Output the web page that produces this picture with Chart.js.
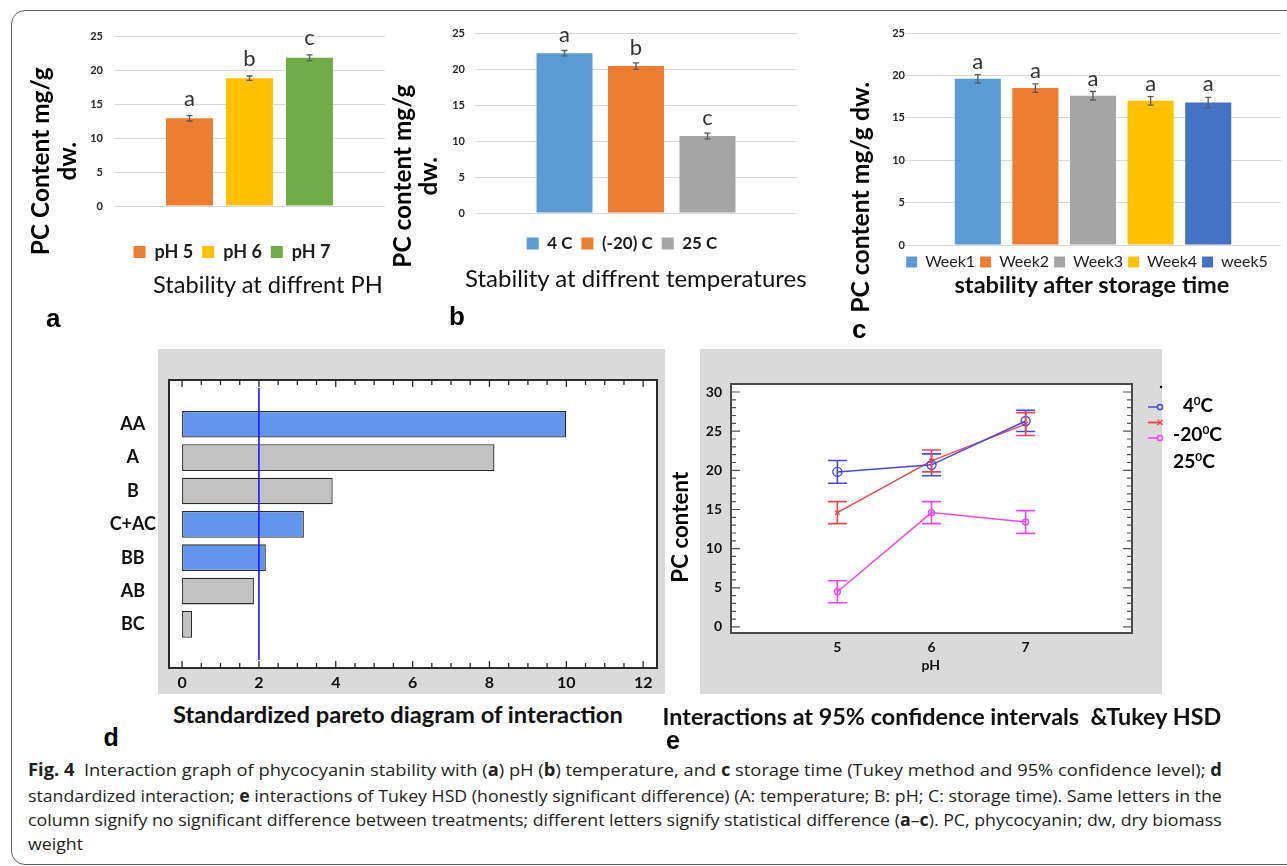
<!DOCTYPE html>
<html><head><meta charset="utf-8">
<script src="https://cdn.jsdelivr.net/npm/chart.js@4.4.1/dist/chart.umd.min.js"></script>
<style>
html,body{margin:0;padding:0;background:#fff;}
body{width:1287px;height:866px;position:relative;overflow:hidden;font-family:Lato,sans-serif;color:#000;}
.t{position:absolute;white-space:pre;line-height:1;}
.frame{position:absolute;left:11px;top:10px;width:1310px;height:853px;border:1.5px solid #5e5e5e;border-radius:14px;}
.cap{position:absolute;left:28px;white-space:pre;font-family:"Open Sans",sans-serif;font-size:17px;line-height:1;color:#231f20;transform-origin:0 50%;}
.cap b{font-weight:700;}
</style></head><body>
<div class="frame"></div>
<script>
// ---------------- DATA ----------------
const barTicks = [0, 5, 10, 15, 20, 25];

const phLabels  = ['pH 5', 'pH 6', 'pH 7'];
const phValues  = [12.9, 18.8, 21.8];
const phErrors  = [0.4, 0.32, 0.42];
const phLetters = ['a', 'b', 'c'];

const tempLabels  = ['4 C', '(-20) C', '25 C'];
const tempValues  = [22.2, 20.4, 10.7];
const tempErrors  = [0.37, 0.44, 0.4];
const tempLetters = ['a', 'b', 'c'];

const weekLabels  = ['Week1', 'Week2', 'Week3', 'Week4', 'week5'];
const weekValues  = [19.6, 18.5, 17.6, 17.0, 16.8];
const weekErrors  = [0.5, 0.5, 0.5, 0.5, 0.6];
const weekLetters = ['a', 'a', 'a', 'a', 'a'];

const paretoTerms       = ['AA', 'A', 'B', 'C+AC', 'BB', 'AB', 'BC'];
const paretoValues      = [10.0, 8.13, 3.92, 3.17, 2.18, 1.87, 0.26];
const paretoSignificant = [true, false, false, true, true, false, false];
const paretoThreshold   = 2.0;
const paretoTicks       = [0, 2, 4, 6, 8, 10, 12];

const phLevels     = [5, 6, 7];
const pc4C         = [19.8, 20.7, 26.3];
const pcMinus20C   = [14.6, 21.2, 25.9];
const pc25C        = [4.5, 14.6, 13.4];
const ci4C         = [1.45, 1.4, 1.35];
const ciMinus20C   = [1.4, 1.4, 1.45];
const ci25C        = [1.4, 1.4, 1.45];
const interYTicks  = [0, 5, 10, 15, 20, 25, 30];
const interLegend  = ['4<span style="font-size:62%;vertical-align:0.6em">0</span>C',
                      '-20<span style="font-size:62%;vertical-align:0.6em">0</span>C',
                      '25<span style="font-size:62%;vertical-align:0.6em">0</span>C'];

// ---------------- HELPERS ----------------
Chart.defaults.font.family = 'Lato';
Chart.defaults.color = '#262626';

function mkCanvas(left, top, w, h) {
  const c = document.createElement('canvas');
  c.width = w; c.height = h;
  c.style.cssText = `position:absolute;left:${left}px;top:${top}px;width:${w}px;height:${h}px;`;
  document.body.appendChild(c);
  return c;
}

function txt(html, o) {
  const d = document.createElement('div');
  d.className = 't';
  d.innerHTML = html;
  d.style.fontFamily = o.family || 'Lato';
  d.style.fontWeight = o.weight || 'normal';
  d.style.fontSize = o.size + 'px';
  d.style.color = o.color || '#000';
  document.body.appendChild(d);
  let size = o.size;
  if (o.w) {
    const w0 = d.getBoundingClientRect().width;
    size = o.size * o.w / w0;
    d.style.fontSize = size + 'px';
  }
  const w = d.offsetWidth, h = d.offsetHeight;
  d.style.left = (o.anchor === 'left' ? o.x : o.x - w / 2) + 'px';
  d.style.top = (o.y - h / 2) + 'px';
  if (o.rot) d.style.transform = 'rotate(-90deg)';
  return size;
}

// error bars + letters for the Excel style bar panels
const errLetters = {
  id: 'errLetters',
  afterDatasetsDraw(chart, args, o) {
    const ctx = chart.ctx, ys = chart.scales.y;
    chart.data.datasets.forEach((ds, i) => {
      const el = chart.getDatasetMeta(i).data[0];
      const v = ds.data[0], e = ds.err;
      const t = ys.getPixelForValue(v + e), b = ys.getPixelForValue(v - e);
      ctx.save();
      ctx.strokeStyle = '#595959'; ctx.lineWidth = 1.3;
      ctx.beginPath();
      ctx.moveTo(el.x, t); ctx.lineTo(el.x, b);
      ctx.moveTo(el.x - 3, t); ctx.lineTo(el.x + 3, t);
      ctx.moveTo(el.x - 3, b); ctx.lineTo(el.x + 3, b);
      ctx.stroke();
      ctx.fillStyle = '#333';
      ctx.font = `normal ${o.size}px Lato`;
      ctx.textAlign = 'center'; ctx.textBaseline = 'alphabetic';
      ctx.fillText(ds.letter, el.x, t - o.gap);
      ctx.restore();
    });
  }
};

function barPanel(canvas, labels, values, errors, letters, colors, cfg) {
  return new Chart(canvas, {
    type: 'bar',
    data: {
      labels: [''],
      datasets: labels.map((l, i) => ({
        label: l, data: [values[i]], err: errors[i], letter: letters[i],
        backgroundColor: colors[i], borderWidth: 0,
        categoryPercentage: cfg.cat, barPercentage: cfg.bar
      }))
    },
    options: {
      responsive: false, animation: false, devicePixelRatio: 1,
      layout: { padding: cfg.pad },
      plugins: {
        legend: { position: 'bottom',
          labels: { boxWidth: cfg.box, boxHeight: cfg.box, padding: cfg.lpad, color: '#1e1e1e',
                    font: { family: 'Lato', size: cfg.lsize, weight: cfg.lweight } } },
        tooltip: { enabled: false },
        errLetters: { size: cfg.letterSize, gap: cfg.gap }
      },
      scales: {
        x: { grid: { display: false, drawTicks: false }, border: { display: false },
             ticks: { display: false }, afterFit: s => { s.height = cfg.xh; } },
        y: { min: barTicks[0], max: barTicks[barTicks.length - 1],
             afterBuildTicks: s => { s.ticks = barTicks.map(v => ({ value: v })); },
             grid: { color: '#d9d9d9', lineWidth: 1, drawTicks: false }, border: { display: false },
             ticks: { padding: cfg.tp, color: '#262626', font: { family: 'Lato', weight: 'bold', size: 11 } },
             afterFit: s => { s.width = cfg.yw; } }
      }
    },
    plugins: [errLetters]
  });
}

// ---------------- PANEL a ----------------
barPanel(mkCanvas(0, 0, 400, 275), phLabels, phValues, phErrors, phLetters,
  ['#ED7D31', '#FFC000', '#70AD47'],
  { cat: 0.664, bar: 0.783, pad: { left: 79, right: 15, top: 36, bottom: 4 },
    yw: 35, tp: 11, xh: 28, box: 12, lpad: 9, lsize: 18, lweight: 'bold', letterSize: 22, gap: 10 });

// ---------------- PANEL b ----------------
barPanel(mkCanvas(370, 0, 440, 275), tempLabels, tempValues, tempErrors, tempLetters,
  ['#5B9BD5', '#ED7D31', '#A5A5A5'],
  { cat: 0.666, bar: 0.783, pad: { left: 77, right: 13, top: 33, bottom: 13 },
    yw: 28, tp: 10, xh: 13, box: 12, lpad: 9, lsize: 17, lweight: 'bold', letterSize: 22, gap: 8 });

// ---------------- PANEL c ----------------
barPanel(mkCanvas(830, 0, 457, 285), weekLabels, weekValues, weekErrors, weekLetters,
  ['#5B9BD5', '#ED7D31', '#A5A5A5', '#FFC000', '#4472C4'],
  { cat: 0.766, bar: 0.8, pad: { left: 63, right: 6, top: 33, bottom: 5 },
    yw: 12, tp: 0, xh: 4, box: 11, lpad: 5, lsize: 16, lweight: 'normal', letterSize: 22, gap: 6 });

// ---------------- PANEL d (Pareto) ----------------
const paretoFrame = {
  id: 'paretoFrame',
  beforeDraw(chart) {
    const { ctx, chartArea: a } = chart;
    ctx.save();
    ctx.fillStyle = '#dadada';
    ctx.fillRect(a.left - 11, a.top - 31, a.right - a.left + 19, a.bottom - a.top + 57);
    ctx.fillStyle = '#fff';
    ctx.fillRect(a.left, a.top, a.right - a.left, a.bottom - a.top);
    ctx.restore();
  },
  afterDraw(chart) {
    const { ctx, chartArea: a, scales } = chart;
    const xs = scales.x;
    ctx.save();
    ctx.strokeStyle = '#1a1aff'; ctx.lineWidth = 1.6;
    const px = xs.getPixelForValue(paretoThreshold);
    ctx.beginPath(); ctx.moveTo(px, a.top + 8); ctx.lineTo(px, a.bottom - 8); ctx.stroke();
    ctx.strokeStyle = '#2a2a2a'; ctx.lineWidth = 1.3;
    ctx.beginPath();
    for (let v = paretoTicks[0]; v <= paretoTicks[paretoTicks.length - 1] + 1e-9; v += 0.5) {
      const x = xs.getPixelForValue(v);
      const len = paretoTicks.includes(v) ? 7 : 5;
      ctx.moveTo(x, a.top); ctx.lineTo(x, a.top + len);
      ctx.moveTo(x, a.bottom); ctx.lineTo(x, a.bottom - len);
    }
    ctx.stroke();
    ctx.strokeStyle = '#2a2a2a'; ctx.lineWidth = 2;
    ctx.strokeRect(a.left, a.top, a.right - a.left, a.bottom - a.top);
    ctx.restore();
  }
};

new Chart(mkCanvas(90, 345, 590, 355), {
  type: 'bar',
  data: {
    datasets: [{
      data: paretoValues.map((v, i) => ({ x: v, y: i })),
      backgroundColor: paretoSignificant.map(s => s ? '#6495ED' : '#C2C2C2'),
      borderColor: '#2b2b2b', borderWidth: 1.3, borderSkipped: false,
      categoryPercentage: 1, barPercentage: 0.8
    }]
  },
  options: {
    indexAxis: 'y', responsive: false, animation: false, devicePixelRatio: 1,
    layout: { padding: { left: 0, right: 23, top: 35, bottom: 0 } },
    plugins: { legend: { display: false }, tooltip: { enabled: false } },
    scales: {
      x: { type: 'linear', position: 'bottom', min: -0.34, max: 12.36,
           afterBuildTicks: s => { s.ticks = paretoTicks.map(v => ({ value: v })); },
           grid: { display: false, drawTicks: false }, border: { display: false },
           ticks: { padding: 5, color: '#111', font: { family: 'Lato', weight: 'bold', size: 16 } },
           afterFit: s => { s.height = 32; } },
      y: { type: 'linear', reverse: true, min: -0.71, max: 6.69,
           afterBuildTicks: s => { s.ticks = paretoTerms.map((t, i) => ({ value: i })); },
           grid: { display: false, drawTicks: false }, border: { display: false },
           ticks: { callback: v => paretoTerms[v], crossAlign: 'center', padding: 13,
                    color: '#111', font: { family: 'Lato', weight: 'bold', size: 18 } },
           afterFit: s => { s.width = 79; } }
    }
  },
  plugins: [paretoFrame]
});

// ---------------- PANEL e (interaction plot) ----------------
const interFrame = {
  id: 'interFrame',
  beforeDraw(chart) {
    const { ctx, chartArea: a } = chart;
    ctx.save();
    ctx.fillStyle = '#dadada';
    ctx.fillRect(a.left - 31, a.top - 35, a.right - a.left + 61, a.bottom - a.top + 96);
    ctx.fillStyle = '#fff';
    ctx.fillRect(a.left, a.top, a.right - a.left, a.bottom - a.top);
    ctx.restore();
  },
  afterDatasetsDraw(chart) {
    const { ctx, scales } = chart;
    chart.data.datasets.forEach((ds, i) => {
      const meta = chart.getDatasetMeta(i);
      ctx.save();
      ctx.strokeStyle = ds.borderColor; ctx.lineWidth = 1.6;
      ctx.beginPath();
      meta.data.forEach((pt, j) => {
        const v = ds.data[j].y, e = ds.ci[j];
        const t = scales.y.getPixelForValue(v + e), b = scales.y.getPixelForValue(v - e);
        ctx.moveTo(pt.x, t); ctx.lineTo(pt.x, b);
        ctx.moveTo(pt.x - 9.5, t); ctx.lineTo(pt.x + 9.5, t);
        ctx.moveTo(pt.x - 9.5, b); ctx.lineTo(pt.x + 9.5, b);
      });
      ctx.stroke();
      ctx.restore();
    });
  },
  afterDraw(chart) {
    const { ctx, chartArea: a, scales } = chart;
    ctx.save();
    ctx.strokeStyle = '#555'; ctx.lineWidth = 1.2;
    ctx.beginPath();
    const y0 = interYTicks[0], y1 = interYTicks[interYTicks.length - 1];
    for (let v = y0; v <= y1; v += 1) {
      const y = scales.y.getPixelForValue(v);
      const len = interYTicks.includes(v) ? 9 : 5;
      ctx.moveTo(a.left, y); ctx.lineTo(a.left + len, y);
      ctx.moveTo(a.right, y); ctx.lineTo(a.right - len, y);
    }
    ctx.stroke();
    ctx.strokeStyle = '#4a4a4a'; ctx.lineWidth = 2;
    ctx.strokeRect(a.left, a.top, a.right - a.left, a.bottom - a.top);
    // legend symbols
    ctx.fillStyle = '#000';
    ctx.beginPath(); ctx.arc(a.right + 29, a.top + 3, 1.2, 0, Math.PI * 2); ctx.fill();
    chart.data.datasets.forEach((ds, i) => {
      const y = a.top + 23 + i * 15.5;
      const x1 = a.right + 16, x2 = a.right + 28;
      ctx.strokeStyle = ds.borderColor; ctx.lineWidth = 1.5;
      ctx.beginPath(); ctx.moveTo(x1, y); ctx.lineTo(x2 - 2.6, y); ctx.stroke();
      ctx.beginPath();
      if (ds.pointStyle === 'crossRot') {
        ctx.moveTo(x1, y); ctx.lineTo(x2, y);
        ctx.moveTo(x2 - 2.5, y - 2.5); ctx.lineTo(x2 + 2.5, y + 2.5);
        ctx.moveTo(x2 - 2.5, y + 2.5); ctx.lineTo(x2 + 2.5, y - 2.5);
      } else {
        ctx.arc(x2, y, 2.6, 0, Math.PI * 2);
      }
      ctx.stroke();
    });
    ctx.restore();
  }
};

function interSeries(label, ys, ci, color, style, radius) {
  return {
    label, data: phLevels.map((x, i) => ({ x, y: ys[i] })), ci,
    borderColor: color, borderWidth: 1.5, pointStyle: style, pointRadius: radius,
    pointBorderColor: color, pointBackgroundColor: 'rgba(255,255,255,0)', pointBorderWidth: 1.4,
    tension: 0, fill: false
  };
}

new Chart(mkCanvas(650, 345, 637, 355), {
  type: 'line',
  data: {
    datasets: [
      interSeries('4°C', pc4C, ci4C, '#4646F2', 'circle', 4.5),
      interSeries('-20°C', pcMinus20C, ciMinus20C, '#F24646', 'crossRot', 3),
      interSeries('25°C', pc25C, ci25C, '#F046F0', 'circle', 3)
    ]
  },
  options: {
    responsive: false, animation: false, devicePixelRatio: 1,
    layout: { padding: { left: 0, right: 155, top: 39, bottom: 27 } },
    plugins: { legend: { display: false }, tooltip: { enabled: false } },
    scales: {
      x: { type: 'linear', min: 3.87, max: 8.13,
           afterBuildTicks: s => { s.ticks = phLevels.map(v => ({ value: v })); },
           grid: { display: false, drawTicks: false }, border: { display: false },
           ticks: { padding: 6, color: '#111', font: { family: 'Lato', weight: 'bold', size: 14 } },
           afterFit: s => { s.height = 40; } },
      y: { type: 'linear', min: -0.77, max: 31.02,
           afterBuildTicks: s => { s.ticks = interYTicks.map(v => ({ value: v })); },
           grid: { display: false, drawTicks: false }, border: { display: false },
           ticks: { padding: 9, color: '#111', font: { family: 'Lato', weight: 'bold', size: 14 } },
           afterFit: s => { s.width = 81; } }
    }
  },
  plugins: [interFrame]
});

// ---------------- TEXTS ----------------
let s;
s = txt('PC Content mg/g', { x: 40, y: 161, size: 22, w: 188, weight: 'bold', rot: true });
txt('dw.', { x: 67, y: 161, size: s, weight: 'bold', rot: true });
s = txt('PC content mg/g', { x: 402, y: 176, size: 22, w: 183, weight: 'bold', rot: true });
txt('dw.', { x: 428, y: 176, size: s, weight: 'bold', rot: true });
txt('PC content mg/g dw.', { x: 860, y: 197, size: 22, w: 231, weight: 'bold', rot: true });
txt('PC content', { x: 680, y: 527, size: 22, w: 111, weight: 'bold', rot: true });

txt('Stability at diffrent PH', { x: 268, y: 285, size: 22, w: 230, color: '#111' });
txt('Stability at diffrent temperatures', { x: 636, y: 278, size: 22, w: 342, color: '#111' });
txt('stability after storage time', { x: 1092, y: 285, size: 24, w: 275, weight: 'bold', color: '#111' });
txt('Standardized pareto diagram of interaction', { x: 398, y: 715, size: 22, w: 450, weight: 'bold', color: '#111' });
txt('Interactions at 95% confidence intervals  &amp;Tukey HSD', { x: 942, y: 716, size: 22, w: 559, weight: 'bold', color: '#111' });
txt('pH', { x: 931, y: 665, size: 14, weight: 'bold', color: '#111' });

txt(interLegend[0], { x: 1183, y: 405, size: 20, w: 30, weight: 'bold', anchor: 'left' });
txt(interLegend[1], { x: 1173, y: 433, size: 20, w: 49, weight: 'bold', anchor: 'left' });
txt(interLegend[2], { x: 1173, y: 460, size: 20, w: 42, weight: 'bold', anchor: 'left' });

const pl = { family: '"Liberation Sans", Arial, sans-serif', weight: 'bold', size: 26 };
txt('a', Object.assign({ x: 53, y: 318 }, pl));
txt('b', Object.assign({ x: 457, y: 316 }, pl));
txt('c', Object.assign({ x: 859, y: 329 }, pl));
txt('d', Object.assign({ x: 111, y: 737 }, pl, { size: 25 }));
txt('e', Object.assign({ x: 673, y: 740 }, pl, { size: 25 }));

// ---------------- CAPTION ----------------
const capLines = [
  '<b>Fig. 4</b>  Interaction graph of phycocyanin stability with (<b>a</b>) pH (<b>b</b>) temperature, and <b>c</b> storage time (Tukey method and 95% confidence level); <b>d</b>',
  'standardized interaction; <b>e</b> interactions of Tukey HSD (honestly significant difference) (A: temperature; B: pH; C: storage time). Same letters in the',
  'column signify no significant difference between treatments; different letters signify statistical difference (<b>a</b>–<b>c</b>). PC, phycocyanin; dw, dry biomass',
  'weight'
];
const capY = [769, 795, 819, 843];
let lastScale = 1;
capLines.forEach((html, i) => {
  const d = document.createElement('div');
  d.className = 'cap'; d.innerHTML = html;
  document.body.appendChild(d);
  const w = d.offsetWidth, h = d.offsetHeight;
  if (i < 3) lastScale = 1194 / w;
  d.style.top = (capY[i] - h / 2) + 'px';
  d.style.transform = `scaleX(${lastScale})`;
});
</script>
</body></html>
